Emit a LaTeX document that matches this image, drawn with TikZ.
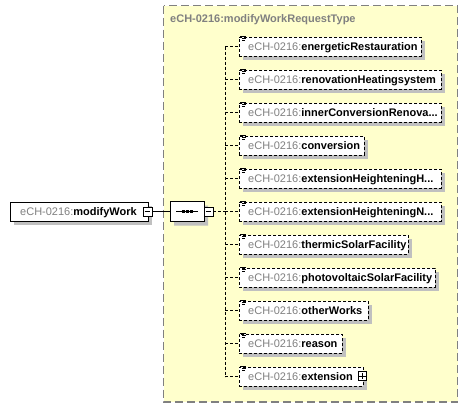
\documentclass[tikz,border=0pt]{standalone}
\usepackage{fontspec}
\setmainfont{Liberation Sans}
\usetikzlibrary{shapes.misc,shadows}
\definecolor{bgyellow}{RGB}{255,255,204}
\definecolor{pfx}{RGB}{128,128,128}
\definecolor{shadowc}{RGB}{192,192,192}
\definecolor{framec}{RGB}{128,128,128}
\newcommand\myelem[4]{%
  \node[elbox, minimum width={#3-239}] (#1) at (239,#2) {};
  \node[eltext] (#1t) at (248,#2+4) {\textcolor{pfx}{eCH-0216:}\textbf{#4}};
  \draw[line width=0.9pt] (240,#2-10.5) -- ++(6,0) (242,#2-8.5) -- ++(4,0) (242,#2-6.5) -- ++(3,0);
}
\begin{document}
\begin{tikzpicture}[x=1pt,y=-1pt,
  shadowed/.style={drop shadow={shadow xshift=4pt, shadow yshift=-4pt, fill=shadowc, opacity=1}},
  elbox/.style={draw=black, line width=0.9pt, dash pattern=on 3pt off 2pt, fill=white, inner sep=0pt, minimum height=19pt, anchor=west, shadowed},
  eltext/.style={anchor=base west, inner sep=0pt, font=\fontsize{11}{13}\selectfont},
  conn/.style={line width=0.9pt, dash pattern=on 3pt off 2pt},
  iconbox/.style={draw=black, fill=white, line width=0.9pt, minimum size=9pt, inner sep=0pt}]
\useasboundingbox (0,0) rectangle (469,408);
\draw[framec, line width=1.3pt, dash pattern=on 8pt off 4pt, fill=bgyellow] (163.5,5.5) rectangle (457.5,402);
\node[anchor=base west, text=pfx, font=\bfseries\fontsize{11}{13}\selectfont, inner sep=0pt] (title) at (170,22) {eCH-0216:modifyWorkRequestType};

\myelem{e1}{46.5}{421}{energeticRestauration}
\myelem{e2}{79.5}{441}{renovationHeatingsystem}
\myelem{e3}{112.5}{441}{innerConversionRenova...}
\myelem{e4}{145.5}{364}{conversion}
\myelem{e5}{178.5}{441}{extensionHeighteningH...}
\myelem{e6}{211.5}{441}{extensionHeighteningN...}
\myelem{e7}{244.5}{408}{thermicSolarFacility}
\myelem{e8}{277.5}{435}{photovoltaicSolarFacility}
\myelem{e9}{310.5}{368}{otherWorks}
\myelem{e10}{343.5}{342}{reason}
\myelem{e11}{376.5}{363}{extension}

% plus icon on extension
\node[iconbox, minimum size=8.5pt] (ext) at (362.5,376) {};
\draw[line width=0.9pt] ([xshift=1.5pt]ext.west) -- ([xshift=-1.5pt]ext.east)
  ([yshift=-1.5pt]ext.north) -- ([yshift=1.5pt]ext.south);

% main element
\node[draw=black, line width=0.9pt, fill=white, minimum width=138pt, minimum height=19pt, anchor=west, inner sep=0pt, shadowed] (mw) at (10,211.5) {};
\node[eltext] (mwt) at (20,215.5) {\textcolor{pfx}{eCH-0216:}\textbf{modifyWork}};
\node[iconbox] (mwm) at (147.5,211.5) {};
\draw[line width=0.9pt] ([xshift=2pt]mwm.west) -- ([xshift=-2pt]mwm.east);

% sequence compositor
\node[chamfered rectangle, chamfered rectangle xsep=6pt, chamfered rectangle ysep=5pt,
  draw=black, line width=0.9pt, fill=white, minimum width=34pt, minimum height=20pt, inner sep=0pt, shadowed] (seq) at (187,211.5) {};
\draw[line width=0.9pt] ([xshift=-11pt]seq.center) -- ([xshift=11pt]seq.center);
\foreach \dx in {-4,0,4} \fill ([xshift=\dx pt]seq.center) +(-1.5,-1.5) rectangle +(1.5,1.5);
\node[iconbox] (seqm) at (208.5,211.5) {};
\draw[line width=0.9pt] ([xshift=2pt]seqm.west) -- ([xshift=-2pt]seqm.east);

% connectors
\coordinate (bus) at (225,211.5);
\draw[line width=0.9pt] (mwm.east) -- (seq.west);
\draw[conn] (seqm.east) -- (bus);
\draw[conn] (bus |- e1.west) -- (bus |- e11.west);
\foreach \i in {1,...,11} \draw[conn] (bus |- e\i.west) -- (e\i.west);
\end{tikzpicture}
\end{document}
